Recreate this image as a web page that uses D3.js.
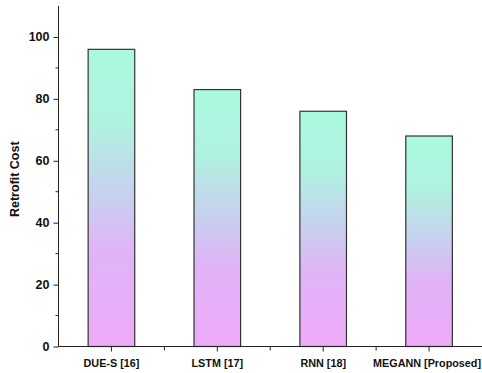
<!DOCTYPE html>
<html><head><meta charset="utf-8">
<script src="https://cdn.jsdelivr.net/npm/d3@7/dist/d3.min.js"></script>
<style>body{margin:0;background:#fff;} text{font-family:"Liberation Sans",Arial,sans-serif;font-weight:bold;fill:#111;}</style>
</head><body><svg id="c" width="482" height="373"></svg>
<script>
const categories = ["DUE-S [16]", "LSTM [17]", "RNN [18]", "MEGANN [Proposed]"];
const values = [96, 83, 76, 68];
const yTicks = [0, 20, 40, 60, 80, 100];
const yMinorTicks = [10, 30, 50, 70, 90];
const yLabel = "Retrofit Cost";

(function(){
const svg = d3.select("#c");
const mL = 58.5, mR = 482, mT = 6, mB = 346.5;
const x = d3.scaleBand().domain(categories).range([mL, mR]).paddingInner(0.56).paddingOuter(0.28);
const y = d3.scaleLinear().domain([0, 110]).range([mB, mT]);

const defs = svg.append("defs");
const g = defs.append("linearGradient").attr("id","grad").attr("x1",0).attr("y1",0).attr("x2",0).attr("y2",1);
g.append("stop").attr("offset","0%").attr("stop-color","#aaf9e0");
g.append("stop").attr("offset","25%").attr("stop-color","#b0f2e0");
g.append("stop").attr("offset","50%").attr("stop-color","#c8cff0");
g.append("stop").attr("offset","68%").attr("stop-color","#e0b4f6");
g.append("stop").attr("offset","100%").attr("stop-color","#eeaafa");

svg.selectAll("rect.bar").data(values).join("rect").attr("class","bar")
  .attr("x",(d,i)=>x(categories[i])).attr("width",x.bandwidth())
  .attr("y",d=>y(d)).attr("height",d=>y(0)-y(d))
  .attr("fill","url(#grad)").attr("stroke","#333").attr("stroke-width",1.2);

const ya = svg.append("g").attr("transform",`translate(${mL},0)`)
  .call(d3.axisLeft(y).tickValues(yTicks).tickSize(5).tickPadding(4));
ya.select(".domain").attr("d",`M0,${mT}V${mB}`).attr("stroke","#222");
ya.selectAll("text").style("font-size","12.5px");
ya.selectAll(".tick line").attr("stroke","#222");
svg.append("g").selectAll("line").data(yMinorTicks).join("line")
  .attr("x1",mL-3).attr("x2",mL).attr("y1",d=>y(d)).attr("y2",d=>y(d)).attr("stroke","#222");

const xa = svg.append("g").attr("transform",`translate(0,${mB})`)
  .call(d3.axisBottom(x).tickSize(5).tickPadding(5));
xa.select(".domain").attr("d",`M${mL},0H${mR}`).attr("stroke","#222");
xa.selectAll(".tick line").attr("stroke","#222");
xa.selectAll("text").style("font-size","10.8px").attr("dy","0.95em");
xa.selectAll(".tick").filter(d => d === categories[categories.length-1]).select("text").attr("dx","-2");
const step = x.step();
const bounds = d3.range(1, categories.length).map(i => x(categories[i]) - (step - x.bandwidth())/2);
svg.append("g").selectAll("line").data(bounds).join("line")
  .attr("x1",d=>d).attr("x2",d=>d).attr("y1",mB).attr("y2",mB+4).attr("stroke","#222");

svg.append("text").attr("transform",`translate(19,${(mT+mB)/2+3}) rotate(-90)`)
  .attr("text-anchor","middle").style("font-size","12.5px").text(yLabel);
})();
</script></body></html>
